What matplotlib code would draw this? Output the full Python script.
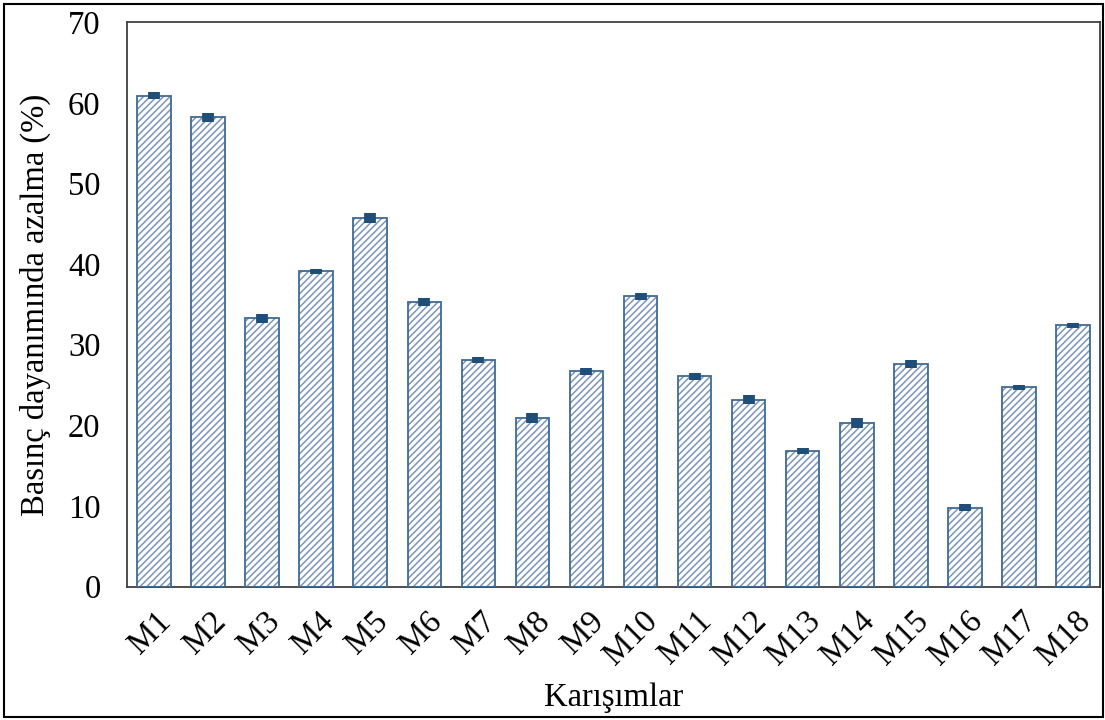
import matplotlib
matplotlib.use("Agg")
from matplotlib import pyplot as plt
from matplotlib.patches import Rectangle
import matplotlib.transforms as mtransforms
import numpy as np

plt.rcParams['font.family'] = ['Liberation Serif', 'DejaVu Serif']
plt.rcParams['hatch.linewidth'] = 1.1

# data
mixes = ["M1", "M2", "M3", "M4", "M5", "M6", "M7", "M8", "M9",
         "M10", "M11", "M12", "M13", "M14", "M15", "M16", "M17", "M18"]
reduction = [60.9, 58.2, 33.3, 39.1, 45.7, 35.3, 28.1, 20.9, 26.7,
             36.0, 26.1, 23.2, 16.8, 20.3, 27.6, 9.8, 24.7, 32.4]
errors = [0.45, 0.6, 0.55, 0.3, 0.6, 0.45, 0.35, 0.6, 0.45,
          0.45, 0.45, 0.5, 0.35, 0.6, 0.5, 0.4, 0.35, 0.35]

fig = plt.figure(figsize=(11.05, 7.2), dpi=100)
ax = fig.add_axes([0.1149, 0.1854, 0.8806, 0.7836])

x = np.arange(len(mixes))
# hatch layer
ax.bar(x, reduction, width=0.62, color="white", edgecolor="#7a96bb",
       hatch="/////", linewidth=0, zorder=2)
# outline layer
ax.bar(x, reduction, width=0.62, fill=False, edgecolor="#3f6a96",
       linewidth=1.3, zorder=3)

eb = ax.errorbar(x, reduction, yerr=errors, fmt="none", ecolor="#1f4e79",
                 elinewidth=8.5, capsize=0, zorder=4)
for lc in eb.lines[2]:
    lc.set_capstyle("butt")

ax.set_xlim(-0.5, len(mixes) - 0.5)
ax.set_ylim(0, 70)
ax.set_yticks(range(0, 71, 10))
ax.tick_params(axis="both", length=0, labelsize=23.5)
ax.tick_params(axis="y", pad=19)
ax.tick_params(axis="x", pad=14)

ax.set_xticks(x)
ax.set_xticklabels(mixes, rotation=45, ha="right", rotation_mode="anchor")
offset = mtransforms.ScaledTranslation(2 / 100, 0, fig.dpi_scale_trans)
for lab in ax.get_xticklabels():
    lab.set_transform(lab.get_transform() + offset)

for side in ["left", "bottom", "top", "right"]:
    ax.spines[side].set_color("#404040")
    ax.spines[side].set_linewidth(1.3)

ax.set_ylabel("Basınç dayanımında azalma (%)", fontsize=23.5)
ax.yaxis.set_label_coords(-0.078, 0.5)
ax.set_xlabel("Karışımlar", fontsize=23.5)
ax.xaxis.set_label_coords(0.5, -0.17)

# outer frame
fig.patches.append(Rectangle((0.004, 0.004), 0.994, 0.991, transform=fig.transFigure,
                             fill=False, edgecolor="black", linewidth=1.5))

plt.savefig("out.png", dpi=100)
